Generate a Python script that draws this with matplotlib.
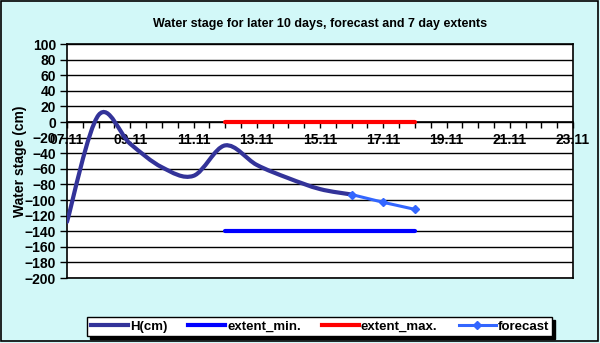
import matplotlib
matplotlib.use('Agg')
import matplotlib.pyplot as plt
import numpy as np
from matplotlib.path import Path
from matplotlib.patches import PathPatch, Rectangle
from matplotlib.lines import Line2D

plt.rcParams['font.family'] = ['Liberation Sans', 'DejaVu Sans']
plt.rcParams['font.weight'] = 'bold'

# dni od 07.11
obs_day = [0, 1, 2, 3, 4, 5, 6, 7, 8, 9]
obs_h = [-128, 9, -28, -58, -69, -30, -55, -72, -86, -93]
fc_day = [9, 10, 11]
fc_h = [-93, -103, -112]
ext_day = [5, 11]
ext_min = [-140, -140]
ext_max = [0, 0]
date_labels = ['07.11', '09.11', '11.11', '13.11', '15.11', '17.11', '19.11', '21.11', '23.11']

bg = '#d2f8f8'
fig = plt.figure(figsize=(6, 3.43), dpi=100, facecolor=bg)
ax = fig.add_axes([67 / 600, 1 - 278 / 343, 506 / 600, 234 / 343])
ax.set_facecolor('white')


# wygładzona linia jak w Excelu (Catmull-Rom -> bezier)
def smooth_path(x, y):
    x = np.asarray(x, float)
    y = np.asarray(y, float)
    n = len(x)
    verts = [(x[0], y[0])]
    codes = [Path.MOVETO]
    for i in range(n - 1):
        i0 = max(i - 1, 0)
        i3 = min(i + 2, n - 1)
        c1 = (x[i] + (x[i + 1] - x[i0]) / 6, y[i] + (y[i + 1] - y[i0]) / 6)
        c2 = (x[i + 1] - (x[i3] - x[i]) / 6, y[i + 1] - (y[i3] - y[i]) / 6)
        verts += [c1, c2, (x[i + 1], y[i + 1])]
        codes += [Path.CURVE4] * 3
    return Path(verts, codes)


h_col = '#333399'
ax.add_patch(PathPatch(smooth_path(obs_day, obs_h), fill=False, edgecolor=h_col,
                       lw=3, capstyle='round', zorder=4))
ax.plot(ext_day, ext_min, color='#0000ff', lw=3, solid_capstyle='round', zorder=4)
ax.plot(ext_day, ext_max, color='#ff0000', lw=3, solid_capstyle='round', zorder=4)
ax.plot(fc_day, fc_h, color='#3366ff', lw=2.2, marker='D', ms=4.5, zorder=5)

ax.set_xlim(0, 16)
ax.set_ylim(-200, 100)
ax.set_yticks(np.arange(-200, 101, 20))
ax.yaxis.grid(True, color='black', lw=1)
ax.set_axisbelow(True)

ax.set_xticks(np.arange(0, 17, 2))
ax.set_xticklabels(date_labels)
ax.set_xticks(np.arange(0, 16.01, 0.5), minor=True)
ax.spines['bottom'].set_position(('data', 0))
ax.axhline(-200, color='black', lw=1.2, clip_on=False)
for s in ax.spines.values():
    s.set_linewidth(1.2)

ax.tick_params(axis='x', which='both', direction='out', length=4, width=1, colors='black')
ax.tick_params(axis='x', which='major', labelsize=10, pad=4)
ax.tick_params(axis='y', direction='out', length=5, width=1, labelsize=10, pad=3)
for lab in ax.get_xticklabels() + ax.get_yticklabels():
    lab.set_fontweight('bold')

ax.set_ylabel('Water stage (cm)', fontsize=10, fontweight='bold', labelpad=-2)
ax.set_title('Water stage for later 10 days, forecast and 7 day extents',
             fontsize=9, fontweight='bold', pad=12)

handles = [
    Line2D([], [], color=h_col, lw=3),
    Line2D([], [], color='#0000ff', lw=3),
    Line2D([], [], color='#ff0000', lw=3),
    Line2D([], [], color='#3366ff', lw=2.2, marker='D', ms=4.5),
]
leg = fig.legend(handles, ['H(cm)', 'extent_min.', 'extent_max.', 'forecast'],
                 loc='center', bbox_to_anchor=(0.533, 0.048), ncol=4,
                 prop={'size': 9.5, 'weight': 'bold'}, handlelength=2.8,
                 handletextpad=0.15, columnspacing=1.6, borderpad=0.25,
                 fancybox=False, edgecolor='black', facecolor='white', framealpha=1,
                 shadow={'color': 'black', 'alpha': 1})
leg.get_frame().set_linewidth(1)

# ramka wykresu
fig.patches.append(Rectangle((0.5 / 600, 2 / 343), 597 / 600, 340.5 / 343, transform=fig.transFigure,
                             fill=False, edgecolor='black', lw=1.2))

fig.savefig('out.png', dpi=100, facecolor=bg)
